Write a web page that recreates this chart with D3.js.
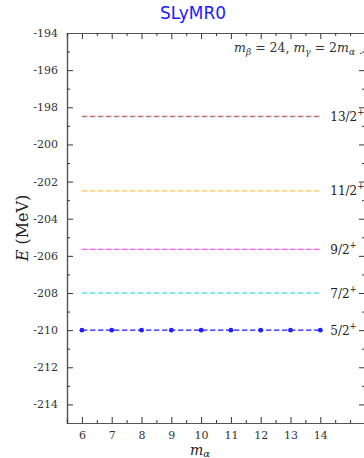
<!DOCTYPE html>
<html>
<head>
<meta charset="utf-8">
<script src="https://cdn.jsdelivr.net/npm/d3@7"></script>
<style>
  html, body { margin: 0; padding: 0; background: #fff; }
  svg { display: block; }
</style>
</head>
<body>
<svg id="chart" width="364" height="458"></svg>
<script>
// m_alpha values on the x axis
const mAlpha = [6, 7, 8, 9, 10, 11, 12, 13, 14];

// Energies (MeV) of each state versus m_alpha
const e52 = [-210.0, -210.0, -210.0, -210.0, -210.0, -210.0, -210.0, -210.0, -210.0];
const e72 = [-208.0, -208.0, -208.0, -208.0, -208.0, -208.0, -208.0, -208.0, -208.0];
const e92 = [-205.65, -205.65, -205.65, -205.65, -205.65, -205.65, -205.65, -205.65, -205.65];
const e112 = [-202.5, -202.5, -202.5, -202.5, -202.5, -202.5, -202.5, -202.5, -202.5];
const e132 = [-198.5, -198.5, -198.5, -198.5, -198.5, -198.5, -198.5, -198.5, -198.5];

const stateNames = ["5/2", "7/2", "9/2", "11/2", "13/2"];
const stateColors = ["#1f1fff", "#66e0e0", "#ff55ff", "#ffc45e", "#c07070"];

const yTicks = [-194, -196, -198, -200, -202, -204, -206, -208, -210, -212, -214];
const xTicks = [6, 7, 8, 9, 10, 11, 12, 13, 14];

const series = [e52, e72, e92, e112, e132].map((vals, i) => ({
  name: stateNames[i], color: stateColors[i], values: vals, markers: i === 0
}));

(function draw() {
  const svg = d3.select("#chart");
  const mLeft = 67, mTop = 33, mRight = 365, mBottom = 423;

  const x = d3.scaleLinear().domain([5.5, 15.5]).range([mLeft, mRight]);
  const y = d3.scaleLinear().domain([-215, -194]).range([mBottom, mTop]);

  const serif = "'DejaVu Serif', 'Liberation Serif', serif";
  const axisColor = "#555";

  // Title
  svg.append("text")
    .attr("x", 193).attr("y", 19)
    .attr("text-anchor", "middle")
    .attr("font-family", "'DejaVu Sans', sans-serif")
    .attr("font-size", 17)
    .attr("fill", "#1a1aff")
    .text("SLyMR0");

  // Minor tick positions
  const yMinor = d3.range(-215, -193, 1).filter(v => !yTicks.includes(v));
  const xMinor = d3.range(5.5, 15.6, 0.5).filter(v => !xTicks.includes(v));

  // Plain hyphen-minus labels
  const fmt = d => String(d);

  // Axes with inward ticks on all four sides
  const axL = d3.axisLeft(y).tickValues(yTicks).tickSize(-6).tickPadding(9).tickFormat(fmt);
  const axLm = d3.axisLeft(y).tickValues(yMinor).tickSize(-3).tickFormat("");
  const axR = d3.axisRight(y).tickValues(yTicks).tickSize(-6).tickFormat("");
  const axRm = d3.axisRight(y).tickValues(yMinor).tickSize(-3).tickFormat("");
  const axB = d3.axisBottom(x).tickValues(xTicks).tickSize(-6).tickPadding(8).tickFormat(fmt);
  const axBm = d3.axisBottom(x).tickValues(xMinor).tickSize(-3).tickFormat("");
  const axT = d3.axisTop(x).tickValues(xTicks).tickSize(-6).tickFormat("");
  const axTm = d3.axisTop(x).tickValues(xMinor).tickSize(-3).tickFormat("");

  function styleAxis(g) {
    g.select(".domain").attr("stroke", axisColor).attr("stroke-width", 1.2);
    g.selectAll(".tick line").attr("stroke", "#333").attr("stroke-width", 1);
    g.selectAll(".tick text")
      .attr("font-family", serif).attr("font-size", 11).attr("fill", "#333");
  }

  svg.append("g").attr("transform", `translate(${mLeft},0)`).call(axL).call(styleAxis);
  svg.append("g").attr("transform", `translate(${mLeft},0)`).call(axLm).call(styleAxis);
  svg.append("g").attr("transform", `translate(${mRight},0)`).call(axR).call(styleAxis);
  svg.append("g").attr("transform", `translate(${mRight},0)`).call(axRm).call(styleAxis);
  svg.append("g").attr("transform", `translate(0,${mBottom})`).call(axB).call(styleAxis);
  svg.append("g").attr("transform", `translate(0,${mBottom})`).call(axBm).call(styleAxis);
  svg.append("g").attr("transform", `translate(0,${mTop})`).call(axT).call(styleAxis);
  svg.append("g").attr("transform", `translate(0,${mTop})`).call(axTm).call(styleAxis);

  // Dashed level lines
  const line = d3.line().x((d, i) => x(mAlpha[i])).y(d => y(d));
  series.forEach(s => {
    svg.append("path")
      .datum(s.values)
      .attr("d", line)
      .attr("fill", "none")
      .attr("stroke", s.color)
      .attr("stroke-width", 1.4)
      .attr("stroke-dasharray", "5.5,2.5");
    if (s.markers) {
      svg.append("g").selectAll("circle")
        .data(s.values)
        .join("circle")
        .attr("cx", (d, i) => x(mAlpha[i]))
        .attr("cy", d => y(d))
        .attr("r", 2.4)
        .attr("fill", s.color);
    }
    // State label J^pi at the right end
    const last = s.values[s.values.length - 1];
    const t = svg.append("text")
      .attr("x", x(14) + 10)
      .attr("y", y(last) + 4.5)
      .attr("font-family", serif)
      .attr("font-size", 12)
      .attr("fill", "#222");
    t.append("tspan").text(s.name);
    t.append("tspan").attr("dy", -6).attr("font-size", 8.5).text("+");
  });

  // Parameter annotation
  const ann = svg.append("text")
    .attr("x", 355).attr("y", 52)
    .attr("text-anchor", "end")
    .attr("font-family", serif)
    .attr("font-size", 12.5)
    .attr("fill", "#333");
  ann.append("tspan").attr("font-style", "italic").text("m");
  ann.append("tspan").attr("font-style", "italic").attr("font-size", 9).attr("dy", 3).text("β");
  ann.append("tspan").attr("dy", -3).text(" = 24, ");
  ann.append("tspan").attr("font-style", "italic").text("m");
  ann.append("tspan").attr("font-style", "italic").attr("font-size", 9).attr("dy", 3).text("γ");
  ann.append("tspan").attr("dy", -3).text(" = 2");
  ann.append("tspan").attr("font-style", "italic").text("m");
  ann.append("tspan").attr("font-style", "italic").attr("font-size", 9).attr("dy", 3).text("α");
  svg.append("text")
    .attr("x", 359).attr("y", 54)
    .attr("font-family", serif).attr("font-size", 11).attr("fill", "#333")
    .text(".");

  // Axis titles
  const yl = svg.append("text")
    .attr("transform", `translate(28,${(mTop + mBottom) / 2}) rotate(-90)`)
    .attr("text-anchor", "middle")
    .attr("font-family", serif)
    .attr("font-size", 16)
    .attr("fill", "#222");
  yl.append("tspan").attr("font-style", "italic").text("E");
  yl.append("tspan").text(" (MeV)");

  const xl = svg.append("text")
    .attr("x", 200).attr("y", 455)
    .attr("text-anchor", "middle")
    .attr("font-family", serif)
    .attr("font-size", 14)
    .attr("fill", "#222");
  xl.append("tspan").attr("font-style", "italic").text("m");
  xl.append("tspan").attr("font-style", "italic").attr("font-size", 10).attr("dy", 2).text("α");
})();
</script>
</body>
</html>
